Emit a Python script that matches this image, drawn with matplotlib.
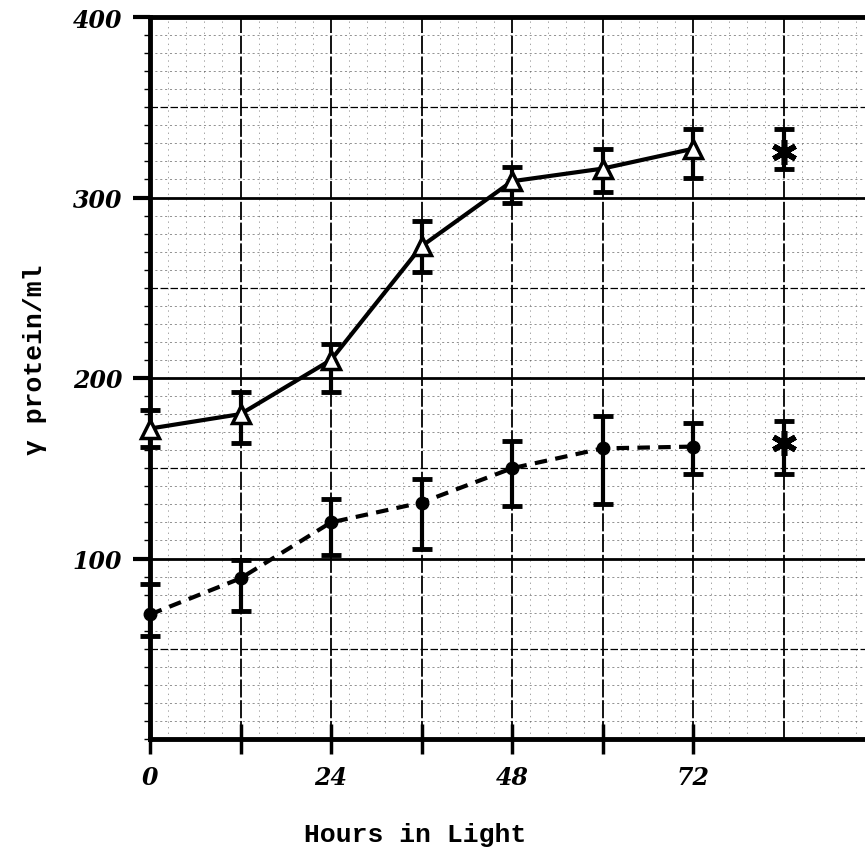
import matplotlib
matplotlib.use("Agg")
import matplotlib.pyplot as plt
import numpy as np
from matplotlib.ticker import MultipleLocator, FixedLocator

# Data (hours in light, gamma protein/ml)
hours = [0, 12, 24, 36, 48, 60, 72]
solid_vals = [172, 180, 210, 273, 309, 316, 327]
solid_hi = [182, 192, 219, 287, 317, 327, 338]
solid_lo = [162, 164, 192, 259, 297, 303, 311]

dash_vals = [69, 89, 120, 131, 150, 161, 162]
dash_hi = [86, 99, 133, 144, 165, 179, 175]
dash_lo = [57, 71, 102, 105, 129, 130, 147]

star_hour = [84]
star_solid = [325]
star_solid_hi = [338]
star_solid_lo = [316]
star_dash = [164]
star_dash_hi = [176]
star_dash_lo = [147]

xtick_pos = [0, 12, 24, 36, 48, 60, 72]
xtick_labels = ["0", "", "24", "", "48", "", "72"]
ytick_pos = [100, 200, 300, 400]
ytick_labels = ["100", "200", "300", "400"]

W, H = 865, 853
fig = plt.figure(figsize=(W / 100, H / 100), dpi=100)
left_px, right_px, top_px, bot_px = 150, 865, 18, 740
ax = fig.add_axes([left_px / W, 1 - bot_px / H, (right_px - left_px) / W, (bot_px - top_px) / H])
ax.set_xlim(0, (right_px - left_px) / ((693 - 150) / 72))
ax.set_ylim(0, 400)

# grid
for y in np.arange(10, 400, 10):
    if y % 100 == 0:
        ax.axhline(y, color="black", lw=2.0, zorder=1)
    elif y % 50 == 0:
        ax.axhline(y, color="black", lw=0.9, ls=(0, (6, 2)), zorder=1)
    else:
        ax.axhline(y, color="black", lw=0.5, ls=(0, (3, 4)), alpha=0.6, zorder=1)
for x in np.arange(2.4, 95, 2.4):
    if abs(x / 12 - round(x / 12)) < 1e-6:
        ax.axvline(x, color="black", lw=1.3, ls=(0, (10, 1.5)), zorder=1)
    else:
        ax.axvline(x, color="black", lw=0.5, ls=(0, (2, 6)), alpha=0.5, zorder=1)

def errs(v, hi, lo):
    v = np.array(v); return [v - np.array(lo), np.array(hi) - v]

# solid series with triangles
e = ax.errorbar(hours, solid_vals, yerr=errs(solid_vals, solid_hi, solid_lo), fmt="none",
                ecolor="black", elinewidth=3, capsize=7, capthick=3.5, zorder=3)
for art in e.lines[1] + e.lines[2]:
    art.set_clip_on(False)
ax.plot(hours, solid_vals, color="black", lw=3, zorder=4, clip_on=False)
ax.plot(hours, solid_vals, ls="none", marker="^", ms=13, mfc="white", mec="black", mew=2.5,
        zorder=5, clip_on=False)

# dashed series with dots
e = ax.errorbar(hours, dash_vals, yerr=errs(dash_vals, dash_hi, dash_lo), fmt="none",
                ecolor="black", elinewidth=3, capsize=7, capthick=3.5, zorder=3)
for art in e.lines[1] + e.lines[2]:
    art.set_clip_on(False)
ax.plot(hours, dash_vals, color="black", lw=3, ls=(0, (3, 2)), zorder=4, clip_on=False)
ax.plot(hours, dash_vals, ls="none", marker="o", ms=9, color="black", zorder=5, clip_on=False)

# star points
for v, hi, lo in [(star_solid, star_solid_hi, star_solid_lo), (star_dash, star_dash_hi, star_dash_lo)]:
    ax.errorbar(star_hour, v, yerr=errs(v, hi, lo), fmt="none", ecolor="black",
                elinewidth=3, capsize=7, capthick=3.5, zorder=3)
    ax.plot(star_hour, v, ls="none", marker=(6, 2, 0), ms=18, mew=4, color="black", zorder=5)

# spines
for s in ["left", "bottom", "top"]:
    ax.spines[s].set_linewidth(3.5)
ax.spines["right"].set_visible(False)

hand = dict(family="DejaVu Serif", style="italic", weight="bold", size=17)
ax.xaxis.set_major_locator(FixedLocator(xtick_pos))
ax.set_xticklabels(xtick_labels, fontdict=hand)
ax.yaxis.set_major_locator(FixedLocator(ytick_pos))
ax.set_yticklabels(ytick_labels, fontdict=hand)
ax.yaxis.set_minor_locator(MultipleLocator(10))
ax.tick_params(axis="x", direction="inout", length=22, width=2.5, pad=8)
ax.tick_params(axis="y", direction="out", length=12, width=3, pad=8)
ax.tick_params(axis="y", which="minor", direction="out", length=4, width=1)

mono = dict(family="Liberation Mono", weight="bold", size=19)
fig.text(415 / W, 1 - 835 / H, "Hours in Light", ha="center", va="center", **mono)
fig.text(35 / W, 1 - 360 / H, "γ protein/ml", ha="center", va="center", rotation=90, **mono)

fig.savefig("out.png", dpi=100)
